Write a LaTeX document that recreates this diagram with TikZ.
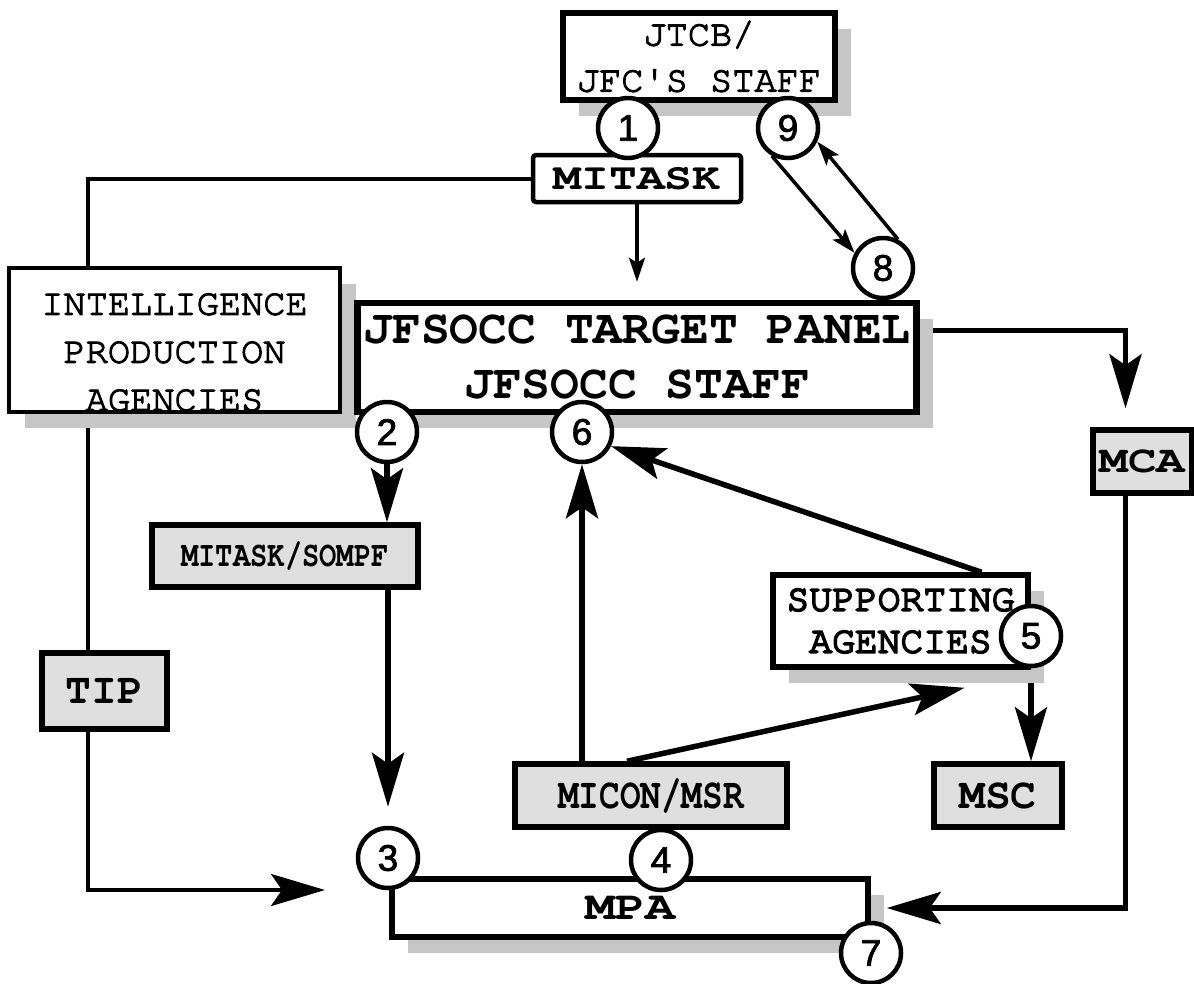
\documentclass[tikz,border=0pt]{standalone}
\usepackage{fontspec}
\setmainfont{TeX Gyre Cursor}
\newfontfamily\widecur[FakeStretch=1.25]{TeX Gyre Cursor}
\newfontfamily\narrowcur[FakeStretch=0.8]{TeX Gyre Cursor}
\newfontfamily\medcur[FakeBold=3]{TeX Gyre Cursor}
\newfontfamily\heavycur[FakeBold=5]{TeX Gyre Cursor}
\newfontfamily\numfont[FakeBold=2]{Liberation Sans}
\newcommand{\fsize}[2]{\fontsize{#1pt}{#2pt}\selectfont}
\usetikzlibrary{arrows.meta,shadows}

\pgfdeclarelayer{back}
\pgfsetlayers{back,main}

\begin{document}
\begin{tikzpicture}[
    x=1pt,y=-1pt,
    box/.style={draw,fill=white,line width=5.5pt,inner sep=0pt,align=center},
    shadowed/.style={drop shadow={shadow xshift=16pt,shadow yshift=-16pt,fill=gray!45,opacity=1}},
    greybox/.style={box,fill=gray!25},
    num/.style={draw,circle,fill=white,line width=4.5pt,minimum size=60pt,inner sep=0pt,font=\numfont\fsize{37}{37}},
    flow/.style={line width=5.5pt,-{Stealth[length=54pt,width=32pt,inset=11pt]}},
    thin flow/.style={line width=3.5pt,-{Stealth[length=24pt,width=16pt,inset=5pt]}},
    link/.style={line width=4pt}
    ]
    \useasboundingbox (0,0) rectangle (1194,983);
    % boxes
    \node[box,shadowed,minimum width=272pt,minimum height=87pt,font=\medcur\fsize{37}{46}] (jtcb) at (699,56.5) {JTCB/\\JFC'S STAFF};
    \node[box,line width=4.5pt,rounded corners=3pt,minimum width=208pt,minimum height=47pt,font=\widecur\bfseries\fsize{37}{40}] (mitask) at (637,178.5) {MITASK};
    \node[box,shadowed,line width=3.5pt,minimum width=331pt,minimum height=144pt,font=\medcur\fsize{37}{48}] (intel) at (174.5,340) {\rule{0pt}{46pt}INTELLIGENCE\\PRODUCTION\\AGENCIES};
    \node[box,shadowed,line width=6.5pt,minimum width=559pt,minimum height=109pt,font=\bfseries\fsize{48}{55}] (jfs) at (637,357.5) {JFSOCC TARGET PANEL\\JFSOCC STAFF};
    \node[greybox,minimum width=99pt,minimum height=63pt,font=\widecur\bfseries\fsize{38}{40}] (mca) at (1142.5,461.5) {MCA};
    \node[greybox,minimum width=266pt,minimum height=62pt,font=\narrowcur\bfseries\fsize{36}{40}] (mitsom) at (285,556) {MITASK/SOMPF};
    \node[greybox,minimum width=125pt,minimum height=76pt,font=\bfseries\fsize{43}{46}] (tipbox) at (104.5,691) {TIP};
    \node[box,shadowed,minimum width=255pt,minimum height=92pt,font=\heavycur\fsize{38}{42}] (supp) at (900.5,621) {SUPPORTING\\AGENCIES};
    \node[greybox,minimum width=272pt,minimum height=63pt,font=\narrowcur\bfseries\fsize{43}{46}] (micon) at (651,795.5) {MICON/MSR};
    \node[greybox,minimum width=128pt,minimum height=63pt,font=\bfseries\fsize{43}{46}] (msc) at (998,795.5) {MSC};
    \node[box,shadowed,minimum width=476pt,minimum height=58pt,font=\widecur\bfseries\fsize{40}{40}] (mpa) at (630,908) {MPA};
    % numbered steps
    \node[num] (c1) at (628,128) {1};
    \node[num] (c9) at (788,128) {9};
    \node[num] (c8) at (883,268) {8};
    \node[num] (c2) at (387,432) {2};
    \node[num] (c6) at (582,432) {6};
    \node[num] (c5) at (1031,636) {5};
    \node[num] (c3) at (388,858) {3};
    \node[num] (c4) at (661,860) {4};
    \node[num] (c7) at (871,953) {7};
    \coordinate (tipline) at (88,0);
    \coordinate (mpain) at (325,890);
    \begin{pgfonlayer}{back}
    \draw[link] (mitask.west) -| (intel.north -| tipline);
    \draw[link] (intel.south -| tipline) -- (tipbox.north -| tipline);
    \draw[flow,line width=4pt] (tipbox.south -| tipline) |- (mpain);
    \draw[thin flow] (mitask.south) -- ([yshift=18pt]jfs.north);
    \draw[thin flow] (c9.240) -- (c8.152);
    \draw[thin flow] (c8.62) -- (c9.335);
    \draw[flow] ([yshift=27pt]jfs.east) -| ([xshift=-17pt,yshift=19pt]mca.north);
    \draw[flow] ([xshift=-17pt]mca.south) |- ([xshift=16pt]mpa.east);
    \draw[flow] (c2) -- (c2 |- mitsom.north);
    \draw[flow] (mitsom.south -| c3) -- ([yshift=19pt]c3.north);
    \draw[flow] (micon.north -| c6) -- (c6);
    \draw[flow] ([xshift=-24pt]micon.north) -- ([xshift=64pt,yshift=-18pt]supp.south);
    \draw[flow] ([xshift=81pt]supp.north) -- (c6.334);
    \draw[flow] (c5) -- (c5 |- msc.north);
    \end{pgfonlayer}
\end{tikzpicture}
\end{document}
